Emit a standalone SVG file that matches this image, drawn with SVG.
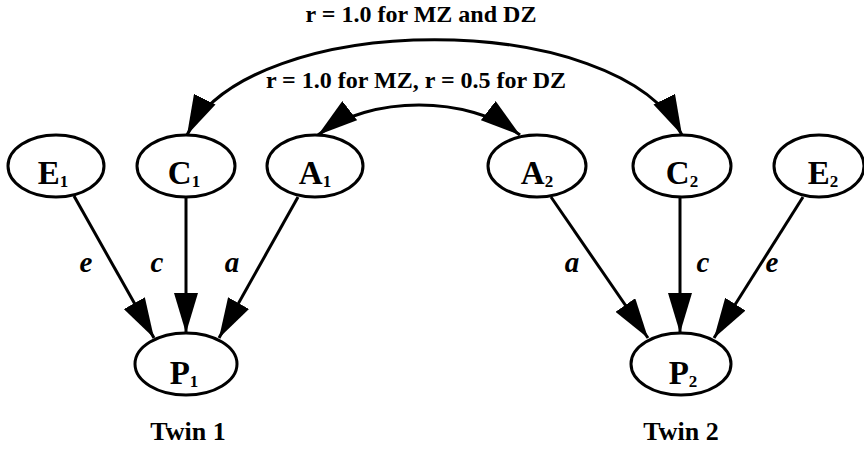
<svg xmlns="http://www.w3.org/2000/svg" width="864" height="450" viewBox="0 0 864 450">
<style>
.node ellipse{fill:#fff;stroke:#000;stroke-width:3}
.lbl{font-family:"Liberation Serif","Times New Roman",serif;font-weight:bold;font-size:33px;text-anchor:middle;fill:#000}
.sub{font-size:17px}
.cap{font-family:"Liberation Serif","Times New Roman",serif;font-weight:bold;font-size:24px;text-anchor:middle;fill:#000}
.twin{font-size:26px}
.path{font-family:"Liberation Serif","Times New Roman",serif;font-weight:bold;font-style:italic;font-size:29px;text-anchor:middle;fill:#000}
.edge{fill:none;stroke:#000;stroke-width:3}
</style>
<defs>
<marker id="ah" markerUnits="userSpaceOnUse" markerWidth="40" markerHeight="24" refX="40" refY="12" orient="auto-start-reverse" viewBox="0 0 40 24">
<path d="M0,0 L40,12 L0,24 Z" fill="#000"/>
</marker>
</defs>
<g id="connectors">
<path class="edge" d="M187,135 C250,8 619,8 682,135" marker-start="url(#ah)" marker-end="url(#ah)"/>
<path class="edge" d="M318,135 C370,95 468,95 520,135" marker-start="url(#ah)" marker-end="url(#ah)"/>
<line class="edge" x1="74" y1="196" x2="154" y2="338" marker-end="url(#ah)"/>
<line class="edge" x1="186" y1="197" x2="186" y2="333" marker-end="url(#ah)"/>
<line class="edge" x1="298" y1="197" x2="219" y2="338" marker-end="url(#ah)"/>
<line class="edge" x1="551" y1="197" x2="648" y2="338" marker-end="url(#ah)"/>
<line class="edge" x1="680" y1="197" x2="680" y2="333" marker-end="url(#ah)"/>
<line class="edge" x1="803" y1="197" x2="714" y2="338" marker-end="url(#ah)"/>
<text class="cap" x="421" y="22">r = 1.0 for MZ and DZ</text>
<text class="cap" x="416" y="88">r = 1.0 for MZ, r = 0.5 for DZ</text>
<text class="path" x="86" y="272">e</text>
<text class="path" x="157" y="272">c</text>
<text class="path" x="232" y="272">a</text>
<text class="path" x="572" y="272">a</text>
<text class="path" x="703" y="272">c</text>
<text class="path" x="772" y="272">e</text>
</g>
<g id="E1" class="node"><ellipse cx="56" cy="166" rx="48" ry="31"/><text class="lbl" x="53" y="184">E<tspan class="sub" dy="3">1</tspan></text></g>
<g id="C1" class="node"><ellipse cx="186" cy="166" rx="49" ry="31"/><text class="lbl" x="184" y="184">C<tspan class="sub" dy="3">1</tspan></text></g>
<g id="A1" class="node"><ellipse cx="315" cy="166" rx="48" ry="31"/><text class="lbl" x="315" y="184">A<tspan class="sub" dy="3">1</tspan></text></g>
<g id="A2" class="node"><ellipse cx="537" cy="166" rx="49" ry="31"/><text class="lbl" x="537" y="184">A<tspan class="sub" dy="3">2</tspan></text></g>
<g id="C2" class="node"><ellipse cx="682" cy="166" rx="49" ry="31"/><text class="lbl" x="682" y="184">C<tspan class="sub" dy="3">2</tspan></text></g>
<g id="E2" class="node"><ellipse cx="819" cy="166" rx="45" ry="31"/><text class="lbl" x="823" y="184">E<tspan class="sub" dy="3">2</tspan></text></g>
<g id="P1" class="node"><ellipse cx="186" cy="364" rx="51" ry="31"/><text class="lbl" x="184" y="384">P<tspan class="sub" dy="3">1</tspan></text></g>
<g id="P2" class="node"><ellipse cx="681" cy="364" rx="50" ry="31"/><text class="lbl" x="683" y="384">P<tspan class="sub" dy="3">2</tspan></text></g>
<g id="twins">
<text class="cap twin" x="188" y="440">Twin 1</text>
<text class="cap twin" x="681" y="440">Twin 2</text>
</g>
</svg>
